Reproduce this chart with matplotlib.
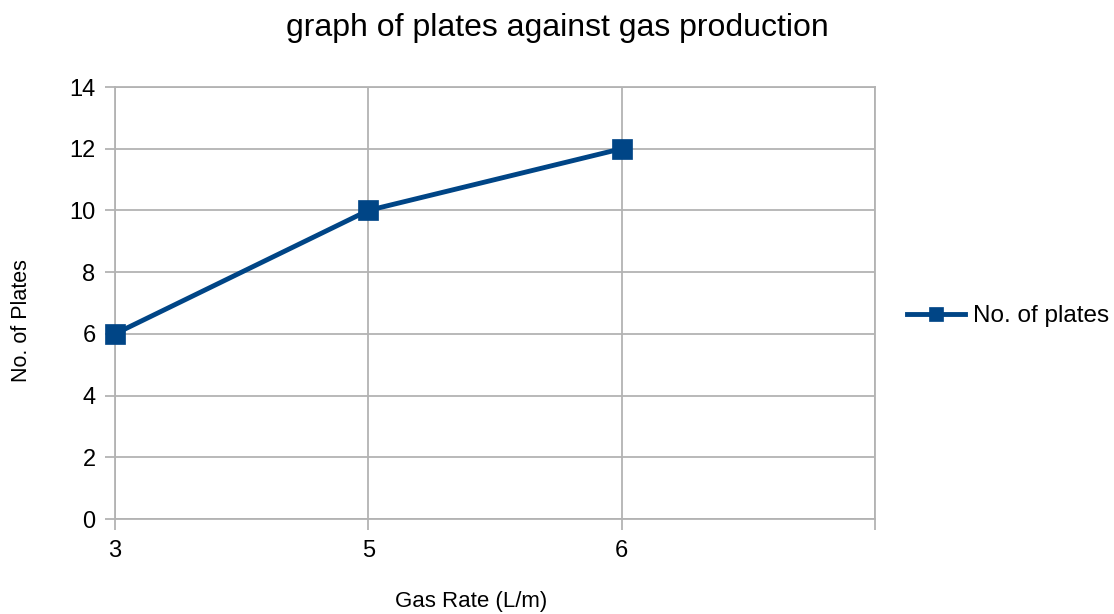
import matplotlib
matplotlib.use("Agg")
import matplotlib.pyplot as plt

plt.rcParams['font.family'] = ['Liberation Sans', 'DejaVu Sans']

gas_rate = ["3", "5", "6"]
plates = [6, 10, 12]

grey = "#b3b3b3"
blue = "#004586"

W, H = 1114, 614
fig = plt.figure(figsize=(W / 100, H / 100), dpi=100)
ax = fig.add_axes([115 / W, 1 - 519 / H, (875 - 115) / W, (519 - 87) / H])

x = list(range(len(gas_rate)))
ax.plot(x, plates, color=blue, linewidth=3.5, marker="s", markersize=14,
        markeredgewidth=0.5, label="No. of plates", zorder=3, clip_on=False)

ax.set_xlim(0, len(gas_rate))
ax.set_ylim(0, 14)
ax.set_xticks(list(range(len(gas_rate) + 1)))
ax.set_xticklabels(gas_rate + [""])
ax.set_yticks(range(0, 15, 2))

ax.grid(True, color=grey, linewidth=1.3)
ax.set_axisbelow(True)
for s in ax.spines.values():
    s.set_color(grey)
    s.set_linewidth(1.3)
ax.tick_params(axis='x', length=8, width=1.3, color=grey, labelsize=17, pad=7)
ax.tick_params(axis='y', length=7, width=1.3, color=grey, labelsize=17, pad=7)

fig.text(0.5, 1 - 28 / H, "graph of plates against gas production",
         fontsize=23, ha="center", va="center")
fig.text(471 / W, 1 - 601 / H, "Gas Rate (L/m)", fontsize=16,
         ha="center", va="center")
fig.text(22 / W, 1 - 321 / H, "No. of Plates", fontsize=15.5,
         ha="center", va="center", rotation=90)

ax.legend(loc="center left", bbox_to_anchor=(907 / W, 1 - 316 / H),
          bbox_transform=fig.transFigure, frameon=False, borderpad=0,
          borderaxespad=0, fontsize=17.5, handlelength=2.4,
          handletextpad=0.3, markerscale=0.75)

fig.savefig("out.png", dpi=100)
